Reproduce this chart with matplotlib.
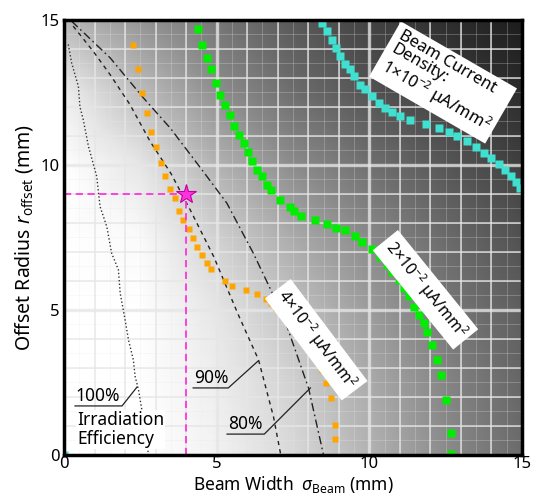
import numpy as np
import matplotlib
matplotlib.use("Agg")
import matplotlib.pyplot as plt

plt.rcParams['font.family'] = ['Noto Sans', 'DejaVu Sans']
plt.rcParams['mathtext.fontset'] = 'custom'
plt.rcParams['mathtext.rm'] = 'Noto Sans'
plt.rcParams['mathtext.it'] = 'Noto Sans:italic'

# --- data ---
# background shading (gray level, 1 = white) on a coarse grid
bg_x = [0, 2.5, 5, 7.5, 10, 12.5, 15]
bg_y = [0, 2.5, 5, 7.5, 10, 12.5, 15]
bg_vals = [
    [1.00, 1.00, 0.95, 0.85, 0.70, 0.55, 0.42],
    [1.00, 1.00, 0.93, 0.82, 0.67, 0.52, 0.40],
    [1.00, 1.00, 0.90, 0.76, 0.61, 0.47, 0.37],
    [1.00, 0.98, 0.82, 0.67, 0.54, 0.42, 0.32],
    [1.00, 0.90, 0.70, 0.55, 0.44, 0.34, 0.25],
    [0.93, 0.74, 0.56, 0.43, 0.33, 0.25, 0.17],
    [0.72, 0.58, 0.46, 0.35, 0.26, 0.18, 0.11],
]

# beam current density contours
j4_x = [0.0, 2.25, 2.42, 2.57, 2.71, 2.86, 3.00, 3.17, 3.32, 3.48, 3.63, 3.76, 3.91, 4.08, 4.22,
        4.37, 4.52, 4.68, 4.82, 5.26, 5.50, 5.96, 6.32, 6.62, 6.78, 6.94, 7.52, 7.68, 7.82,
        7.98, 8.14, 8.28, 8.45, 8.58, 8.74, 8.86, 8.88]
j4_y = [0.0, 14.11, 13.30, 12.46, 11.77, 11.11, 10.60, 10.06, 9.60, 9.16, 8.84, 8.40, 8.08, 7.80,
        7.49, 7.18, 6.88, 6.60, 6.42, 5.99, 5.83, 5.67, 5.53, 5.39, 5.23, 5.07, 4.52, 4.31,
        4.10, 3.87, 3.59, 3.30, 2.93, 2.47, 1.95, 1.03, 0.55]

j2_x = [4.38, 4.52, 4.68, 4.81, 4.97, 5.12, 5.27, 5.43, 5.56, 5.73, 5.88, 6.02, 6.17, 6.32,
        6.48, 6.64, 6.78, 7.08, 7.39, 7.54, 7.76, 8.22, 8.61, 8.92, 9.21, 9.54, 9.76, 10.09,
        10.36, 10.58, 10.74, 10.96, 11.12, 11.29, 11.45, 11.62, 11.78, 11.89, 12.05, 12.22,
        12.36, 12.51, 12.66, 12.68]
j2_y = [14.66, 14.11, 13.66, 13.30, 12.83, 12.39, 12.07, 11.70, 11.33, 11.03, 10.75, 10.44,
        10.11, 9.80, 9.60, 9.29, 9.14, 8.79, 8.54, 8.39, 8.24, 8.10, 7.96, 7.82, 7.76, 7.53,
        7.34, 7.09, 6.81, 6.55, 6.32, 6.03, 5.75, 5.46, 5.11, 4.83, 4.54, 4.25, 3.79, 3.28,
        2.76, 1.90, 0.75, 0.05]

j1_x = [0.0, 8.45, 8.61, 8.78, 8.91, 9.05, 9.21, 9.36, 9.51, 9.70, 9.87, 10.09, 10.31, 10.52,
        10.74, 11.02, 11.34, 11.84, 12.27, 12.60, 12.87, 13.20, 13.48, 13.75, 13.97, 14.24,
        14.46, 14.64, 14.79, 14.93]
j1_y = [0.0, 14.88, 14.60, 14.30, 14.02, 13.73, 13.47, 13.28, 13.04, 12.76, 12.59, 12.36,
        12.13, 11.95, 11.82, 11.67, 11.55, 11.40, 11.26, 11.12, 10.98, 10.80, 10.60, 10.40,
        10.23, 10.02, 9.83, 9.60, 9.42, 9.20]

# irradiation efficiency contours
eff100_x = [0.14, 0.25, 0.47, 0.52, 0.63, 0.80, 1.07, 1.18, 1.40, 1.56, 1.78, 1.84, 2.00,
            2.11, 2.27, 2.33, 2.44, 2.55, 2.77]
eff100_y = [14.14, 13.50, 12.70, 12.00, 11.55, 10.63, 9.60, 8.56, 7.87, 6.95, 6.38, 5.57,
            4.66, 3.97, 3.28, 2.70, 2.24, 1.55, 0.00]
eff90_x = [0.30, 0.96, 1.51, 2.16, 2.82, 3.50, 4.13, 4.90, 5.70, 6.37, 6.86, 7.10]
eff90_y = [14.77, 13.90, 13.10, 12.07, 10.80, 9.70, 8.45, 6.84, 4.85, 3.28, 1.32, 0.00]
eff80_x = [0.25, 1.51, 2.60, 3.48, 4.57, 5.33, 6.20, 7.19, 8.01, 8.50]
eff80_y = [14.94, 13.68, 12.30, 11.26, 9.75, 8.68, 6.95, 4.77, 2.30, 0.00]

# chosen operating point
op_sigma = 4.0
op_r = 9.0

ticks = [0, 5, 10, 15]

# --- figure ---
fig = plt.figure(figsize=(5.34, 4.95), dpi=100)
ax = fig.add_axes([0.1199, 0.0808, 0.8576, 0.8798])

ax.pcolormesh(bg_x, bg_y, np.array(bg_vals), shading='gouraud', cmap='gray',
              vmin=0, vmax=1, zorder=0)

# grid
for v in np.arange(0.5, 15, 0.5):
    ax.axvline(v, color='#e8e8e8', lw=0.6, alpha=0.3, zorder=1)
    ax.axhline(v, color='#e8e8e8', lw=0.6, alpha=0.3, zorder=1)
for v in range(1, 15):
    lw = 2.4 if v % 5 == 0 else 1.3
    ax.axvline(v, color='#e6e6e6', lw=lw, alpha=0.75, zorder=1)
    ax.axhline(v, color='#e6e6e6', lw=lw, alpha=0.75, zorder=1)

# efficiency curves
ax.plot(eff100_x, eff100_y, ls=(0, (1, 1.6)), color='#333333', lw=1.0, zorder=2)
ax.plot(eff90_x, eff90_y, ls=(0, (3, 3)), color='#222222', lw=1.0, zorder=2)
ax.plot(eff80_x, eff80_y, ls=(0, (6, 2.5, 1.2, 2.5)), color='#222222', lw=1.0, zorder=2)

# current density contours
ax.plot(j4_x, j4_y, ls='none', marker='s', ms=4.8, mec='none', color='#ffa500', zorder=3)
ax.plot(j2_x, j2_y, ls='none', marker='s', ms=5.2, mec='none', color='#00ee00', zorder=3)
ax.plot(j1_x, j1_y, ls='none', marker='s', ms=6.0, mec='none', color='#40e0d0', zorder=3)

# operating point
ax.plot([0, op_sigma], [op_r, op_r], ls=(0, (4, 2.5)), color='#ff33dd', lw=1.3, zorder=4)
ax.plot([op_sigma, op_sigma], [0, op_r], ls=(0, (4, 2.5)), color='#ff33dd', lw=1.3, zorder=4)
ax.plot([op_sigma], [op_r], marker='*', ms=15, color='#ff33dd', mec='#c000a0', mew=0.8,
        zorder=5)

# efficiency labels with leader lines
ax.plot([0.36, 1.9, 2.39], [1.69, 1.69, 2.34], color='#222222', lw=0.9, zorder=6)
ax.text(0.38, 1.72, '100%', fontsize=12.5, ha='left', va='bottom', zorder=6)
ax.text(0.43, 0.88, 'Irradiation\nEfficiency', fontsize=12.5, ha='left', va='center',
        linespacing=1.1, zorder=6,
        bbox=dict(facecolor='white', edgecolor='none', pad=0.5))
ax.plot([4.23, 5.38, 6.36], [2.31, 2.31, 3.24], color='#222222', lw=0.9, zorder=6)
ax.text(4.25, 2.34, '90%', fontsize=12.5, ha='left', va='bottom', zorder=6)
ax.plot([5.34, 6.56, 8.07], [0.72, 0.72, 2.31], color='#222222', lw=0.9, zorder=6)
ax.text(5.36, 0.75, '80%', fontsize=12.5, ha='left', va='bottom', zorder=6)

# density labels
box = dict(facecolor='white', edgecolor='none', pad=3.5)
ax.text(8.26, 3.97, r'4×10$^{\mathregular{-2}}$ μA/mm$^{\mathregular{2}}$', fontsize=11.5,
        rotation=-53, rotation_mode='anchor', ha='center', va='center', bbox=box, zorder=7)
ax.text(11.84, 5.69, r'2×10$^{\mathregular{-2}}$ μA/mm$^{\mathregular{2}}$', fontsize=11.5,
        rotation=-51, rotation_mode='anchor', ha='center', va='center', bbox=box, zorder=7)
ax.text(12.43, 12.86,
        'Beam Current\nDensity:\n' + r'1×10$^{\mathregular{-2}}$ μA/mm$^{\mathregular{2}}$',
        fontsize=12, rotation=-30, rotation_mode='anchor', ha='center', va='center',
        multialignment='left', linespacing=1.0,
        bbox=dict(facecolor='white', edgecolor='none', pad=4), zorder=7)

ax.set_xlim(0, 15)
ax.set_ylim(0, 15)
ax.set_xticks(ticks)
ax.set_yticks(ticks)
ax.tick_params(length=0, labelsize=12)
ax.tick_params(axis='x', pad=0.5)
ax.tick_params(axis='y', pad=3)
for s in ax.spines.values():
    s.set_linewidth(2.5)
    s.set_zorder(8)

ax.set_xlabel(r'Beam Width  $\sigma_{\mathregular{Beam}}$ (mm)', fontsize=12.5, va='bottom')
ax.xaxis.set_label_coords(0.5, -0.0915)
ax.set_ylabel(r'Offset Radius $r_{\mathregular{offset}}$ (mm)', fontsize=14, labelpad=4)

fig.savefig("out.png", dpi=100)
